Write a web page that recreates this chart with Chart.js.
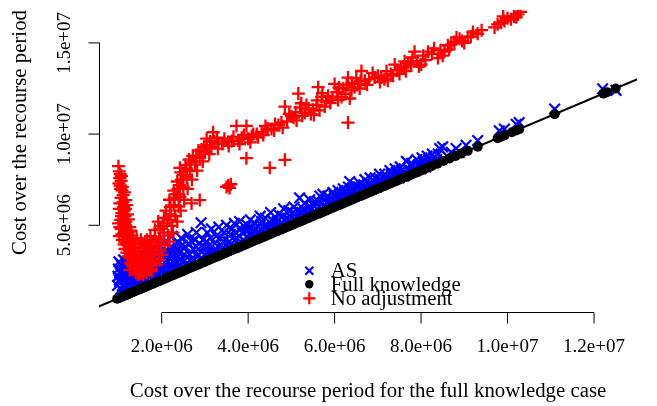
<!DOCTYPE html>
<html><head><meta charset="utf-8">
<script src="https://cdn.jsdelivr.net/npm/chart.js@4"></script>
<style>html,body{margin:0;padding:0;background:#fff}canvas{display:block}</style>
</head><body>
<canvas id="c" width="657" height="406"></canvas>
<script>
// All cost values are in millions (1 = 1.0e+06)
const xTickValues = [2, 4, 6, 8, 10, 12];
const xTickLabels = ["2.0e+06", "4.0e+06", "6.0e+06", "8.0e+06", "1.0e+07", "1.2e+07"];
const yTickValues = [5, 10, 15];
const yTickLabels = ["5.0e+06", "1.0e+07", "1.5e+07"];
const xTitle = "Cost over the recourse period for the full knowledge case";
const yTitle = "Cost over the recourse period";
const legendLabels = ["AS", "Full knowledge", "No adjustment"];

// Full knowledge: cost equals the x value (lies on the y = x line)
const fkCost = [0.97,1.00,1.03,1.06,1.09,1.12,1.15,1.18,1.21,1.24,1.27,1.30,1.34,1.38,1.42,1.46,1.50,1.54,1.58,1.62,1.66,1.70,1.75,1.80,1.85,1.90,1.95,2.00,2.05,2.10,2.16,2.22,2.28,2.34,2.40,2.46,2.52,2.58,2.64,2.70,2.77,2.84,2.91,2.98,3.05,3.12,3.19,3.26,3.33,3.40,3.48,3.56,3.64,3.72,3.80,3.88,3.96,4.04,4.12,4.20,4.28,4.36,4.44,4.52,4.60,4.68,4.76,4.84,4.92,5.00,5.08,5.16,5.24,5.32,5.40,5.48,5.56,5.64,5.72,5.80,5.88,5.96,6.04,6.12,6.20,6.28,6.36,6.44,6.52,6.60,6.68,6.76,6.84,6.92,7.00,7.08,7.16,7.24,7.32,7.40,7.48,7.56,7.64,7.72,7.80,7.88,7.96,8.05,8.15,8.25,8.38,8.52,8.66,8.80,8.93,9.08,9.31,9.77,9.85,9.93,10.10,10.20,10.27,11.09,12.22,12.30,12.50];

// AS: [full knowledge cost, AS cost]
const asPoints = [[0.98,1.7],[0.99,2.2],[1.00,2.6],[1.01,3.0],[1.03,1.9],[1.05,2.4],[1.05,1.5],[1.07,2.8],[1.09,1.7],[1.10,2.1],[1.12,3.1],[1.14,2.5],[1.16,1.8],[1.18,2.9],[1.20,2.2],[1.20,1.6],[1.22,2.6],[1.24,1.9],[1.26,3.2],[1.28,2.4],[1.30,2.0],[1.32,2.8],[1.35,2.2],[1.35,1.7],[1.37,3.0],[1.40,2.5],[1.42,1.9],[1.45,2.7],[1.48,3.3],[1.50,2.1],[1.50,1.8],[1.53,2.9],[1.55,2.4],[1.58,3.4],[1.60,2.2],[1.63,3.0],[1.65,2.0],[1.66,2.6],[1.70,3.5],[1.73,2.4],[1.76,3.2],[1.80,2.8],[1.80,2.1],[1.83,3.8],[1.86,2.5],[1.90,3.4],[1.93,3.0],[1.95,2.3],[1.97,3.9],[2.00,2.7],[2.04,3.5],[2.08,4.1],[2.10,2.4],[2.12,3.1],[2.16,2.8],[2.20,3.8],[2.24,4.4],[2.25,2.6],[2.28,3.3],[2.32,2.9],[2.36,4.0],[2.40,3.5],[2.40,2.7],[2.45,4.3],[2.50,3.0],[2.55,3.8],[2.60,4.5],[2.60,2.9],[2.65,3.4],[2.70,4.1],[2.75,3.1],[2.80,4.6],[2.80,3.0],[2.85,3.7],[2.91,5.14],[2.95,4.2],[3.00,3.4],[3.05,4.6],[3.10,3.9],[3.15,4.8],[3.20,3.6],[3.26,4.4],[3.32,4.9],[3.38,3.9],[3.44,4.6],[3.50,5.0],[3.56,4.1],[3.62,4.8],[3.68,5.1],[3.74,4.3],[3.80,5.2],[3.86,4.6],[3.92,4.1],[3.98,5.0],[4.05,5.3],[4.10,4.6],[4.16,5.1],[4.22,4.5],[4.28,5.5],[4.34,4.9],[4.40,5.4],[4.46,4.8],[4.52,5.7],[4.58,5.2],[4.64,4.9],[4.70,5.6],[4.76,5.1],[4.82,5.9],[4.88,5.3],[4.94,5.8],[5.00,5.4],[5.06,6.0],[5.12,5.5],[5.19,6.5],[5.24,5.7],[5.30,6.2],[5.36,5.6],[5.42,6.4],[5.48,5.9],[5.54,6.3],[5.60,5.9],[5.66,6.6],[5.73,6.7],[5.78,6.1],[5.84,6.6],[5.90,6.2],[5.96,6.8],[6.02,6.3],[6.08,6.9],[6.14,6.5],[6.20,7.0],[6.26,6.6],[6.35,7.4],[6.40,6.8],[6.46,7.2],[6.52,6.8],[6.58,7.3],[6.64,6.9],[6.70,7.5],[6.76,7.0],[6.82,7.6],[6.88,7.2],[6.94,7.6],[7.00,7.3],[7.04,7.8],[7.10,7.4],[7.16,7.8],[7.22,7.5],[7.28,8.0],[7.34,7.6],[7.40,8.1],[7.46,7.7],[7.52,8.2],[7.58,7.8],[7.66,8.5],[7.72,8.0],[7.78,8.4],[7.84,8.1],[7.90,8.6],[7.96,8.2],[8.02,8.7],[8.08,8.3],[8.14,8.8],[8.20,8.4],[8.26,8.9],[8.32,8.5],[8.43,9.21],[8.50,9.30],[8.60,8.8],[8.70,9.0],[8.81,9.21],[9.04,9.39],[9.31,9.65],[9.81,10.18],[9.93,10.28],[10.20,10.54],[10.27,10.63],[11.09,11.37],[12.20,12.48],[12.51,12.40],
[1.02,2.0],[1.04,2.9],[1.08,2.3],[1.11,2.7],[1.13,1.6],[1.15,2.2],[1.19,2.6],[1.23,3.0],[1.25,2.2],[1.27,1.7],[1.29,2.7],[1.33,2.4],[1.36,2.6],[1.39,2.0],[1.43,2.3],[1.46,2.9],[1.47,2.0],[1.52,2.6],[1.56,3.1],[1.57,2.0],[1.61,2.8],[1.64,2.4],[1.68,2.9],[1.71,2.2],[1.74,2.8],[1.78,2.5],[1.82,3.1],[1.85,2.3],[1.88,2.9],[1.92,2.6],[1.96,3.3],[1.99,2.5],[2.02,3.1],[2.06,2.6],[2.10,3.4],[2.14,2.5],[2.18,3.2],[2.22,2.8],[2.26,3.6],[2.30,3.1],[2.34,2.7],[2.38,3.7],[2.43,3.1],[2.47,3.9],[2.52,3.4],[2.57,2.9],[2.62,4.0],[2.67,3.1],[2.72,3.7],[2.77,4.2],[2.83,3.3],[2.88,4.0],[2.93,3.2],[2.98,3.8],[3.03,4.1],[3.08,3.4],[3.13,4.3],[3.18,3.5],[3.23,4.0],[3.29,3.6],[3.35,4.3],[3.41,3.7],[3.47,4.2],[3.53,3.8],[3.59,4.5],[3.65,3.9],[3.71,4.6],[3.77,4.0],[3.83,4.8],[3.89,4.2],[3.95,4.7],[4.01,4.3],[4.07,4.9],[4.13,4.4],[4.19,4.8],[4.25,4.5],[4.31,5.2],[4.37,4.6],[4.43,5.0],[4.49,4.7],[4.55,5.3],[4.61,4.8],[4.67,5.2],[4.73,4.9],[4.79,5.5],[4.85,5.0],[4.91,5.4],[4.97,5.1],[5.03,5.7],[5.09,5.3],[5.15,5.8],[5.21,5.4],[5.27,5.9],[5.33,5.5],[5.39,6.0],[5.45,5.6],[5.51,6.1],[5.57,5.7],[5.63,6.3],[5.69,5.9],[5.75,6.4],[5.81,6.0],[5.87,6.4],[5.93,6.1],[5.99,6.6],[6.05,6.2],[6.11,6.7],[6.17,6.4],[6.23,6.8],[6.29,6.5],[6.32,7.1],[6.38,6.7],[6.44,7.0],[6.50,6.7],[6.56,7.1],[6.62,6.8],[6.68,7.2],[6.74,6.9],[6.80,7.3],[6.86,7.0],[6.92,7.4],[6.98,7.1],[7.06,7.5],[7.13,7.3],[7.19,7.6],[7.25,7.4],[7.31,7.8],[7.37,7.5],[7.43,7.9],[7.49,7.6],[7.55,8.0],[7.61,7.7],[7.69,8.1],[7.75,7.9],[7.81,8.3],[7.87,8.0],[7.93,8.3],[7.99,8.1],[8.05,8.5],[8.11,8.2],[8.17,8.6],[8.23,8.4],[8.29,8.7],[8.36,8.6],[8.40,8.9]];

// No adjustment: [full knowledge cost, no-adjustment cost]
const naPoints = [[1.00,8.24],[1.02,7.95],[1.04,7.80],[1.03,7.60],[1.06,7.44],[1.04,7.18],[1.05,7.00],[1.08,6.91],[1.11,6.65],[1.06,6.50],[1.17,6.38],[1.10,6.25],[1.19,6.11],[1.02,5.90],[1.08,5.67],[1.15,5.50],[1.23,5.32],[1.05,5.30],[1.11,5.14],[1.00,5.10],[1.19,4.88],[1.06,4.80],[1.23,4.61],[1.12,4.55],[1.31,4.44],[1.02,4.40],[1.27,4.17],[1.09,4.20],[1.18,4.05],[1.34,3.99],[1.25,3.85],[1.38,3.73],[1.15,3.70],[1.42,3.46],[1.30,3.40],[1.22,3.30],[1.46,3.20],[1.36,3.10],[1.28,2.95],[1.31,2.84],[1.38,2.66],[1.44,2.90],[1.54,2.49],[1.50,2.70],[1.65,2.40],[1.73,2.58],[1.60,2.60],[1.58,2.95],[1.68,2.80],[1.52,3.15],[1.62,3.30],[1.70,3.05],[1.56,3.50],[1.66,3.60],[1.48,3.80],[1.75,3.40],[1.60,4.00],[1.80,3.20],[1.70,3.90],[1.26,2.55],[1.40,2.40],[1.45,2.30],[1.52,4.20],[1.42,4.30],
[1.01,7.3],[1.07,7.7],[1.09,7.1],[1.12,6.0],[1.14,6.8],[1.13,5.8],[1.16,5.9],[1.03,6.2],[1.07,5.5],[1.21,5.6],[1.17,5.2],[1.03,4.9],[1.14,4.7],[1.26,4.9],[1.08,4.5],[1.20,4.35],[1.29,4.7],[1.13,3.95],[1.22,3.7],[1.33,4.2],[1.19,3.5],[1.28,3.6],[1.38,3.95],[1.26,3.2],[1.34,3.3],[1.41,3.0],[1.34,2.75],[1.47,2.6],[1.50,2.35],[1.57,2.30],[1.62,2.45],[1.69,2.55],[1.55,2.80],[1.64,3.00],[1.74,2.85],[1.58,3.30],[1.72,3.25],[1.78,2.95],[1.64,3.80],[1.74,3.65],[1.83,3.45],[1.56,3.95],[1.66,4.20],[1.78,4.10],[1.88,3.95],[1.74,4.40],[1.85,4.35],[1.94,4.25],[1.84,4.75],[1.96,4.80],[2.02,4.95],[1.92,5.20],[2.05,5.40],[2.16,5.30],[2.10,5.80],[2.20,6.00],[2.18,6.40],[2.30,6.50],[2.28,6.90],[2.38,7.00],[2.36,7.40],[2.46,7.50],[2.44,7.90],[2.55,8.30],[2.63,8.60],[2.72,8.80],[2.85,9.10],[2.98,9.30],[3.12,9.60],[3.28,9.80],[3.40,9.45],[3.62,9.62],[3.85,9.80],[4.08,9.90],
[1.77,2.49],[1.88,2.84],[1.82,3.10],[2.00,3.38],[1.92,3.60],[2.08,3.91],[1.98,4.10],[2.15,4.44],[2.05,4.60],[2.23,4.97],[2.12,5.10],[2.31,5.50],[2.20,5.60],[2.39,6.03],[2.28,6.10],[2.42,6.56],[2.35,6.70],[2.50,7.09],[2.42,7.20],[2.58,7.62],[2.50,7.75],[2.65,7.97],[2.57,8.10],[2.77,8.33],[2.68,8.45],[2.88,8.68],[2.80,8.80],[3.00,9.03],[2.92,9.15],[3.15,9.30],[3.05,9.40],[3.31,9.48],[3.22,9.60],[3.54,9.56],[3.45,9.75],[3.77,9.65],[3.66,9.85],[4.00,9.74],[3.90,9.95],[4.23,9.83],[4.12,10.00],
[1.95,3.10],[2.18,4.10],[2.26,4.60],[2.36,5.20],[2.44,5.80],[2.52,6.40],[2.60,7.00],[2.70,7.50],[2.82,8.00],[2.95,8.50],[3.10,8.90],[3.30,9.20],[3.55,9.35],[3.80,9.45],[4.05,9.55],
[2.42,8.15],[2.69,6.20],[2.88,6.38],[3.54,7.18],[3.60,7.25],[3.50,7.10],[3.57,7.05],[3.96,8.68],[4.50,8.15],[4.85,8.59],[3.04,9.75],[3.19,10.10],[3.73,10.45],[3.96,10.45],[4.85,11.51],
[4.31,10.10],[4.54,10.28],[4.77,10.63],[5.00,10.98],[5.16,12.22],[5.31,11.16],[5.23,11.69],[5.50,11.34],[5.62,12.57],[5.70,12.04],[5.77,11.51],[6.00,12.75],[6.08,11.87],[6.16,12.04],[6.31,13.10],[6.31,10.63],[6.39,12.40],[6.46,12.57],[6.62,13.46],[6.54,12.75],[6.70,12.93],[6.93,13.10],[7.08,13.10],[7.23,12.93],[7.39,13.81],[7.54,13.64],[7.62,13.99],[7.77,13.81],[7.85,14.52],[8.00,13.81],[8.16,14.52],[8.39,14.17],[8.54,14.52],[8.62,14.87],[8.77,15.05],[8.89,15.23],[9.08,15.32],[9.31,15.50],[9.77,16.02],[9.93,16.20],[10.08,16.29],[10.24,16.56],
[4.20,10.00],[4.35,9.95],[4.45,10.30],[4.60,10.20],[4.70,10.50],[4.90,10.70],[5.05,10.90],[5.10,11.20],[5.25,11.00],[5.40,11.40],[5.45,11.10],[5.58,11.60],[5.65,11.30],[5.80,11.80],[5.85,12.10],[5.95,12.00],[6.05,12.30],[6.20,12.50],[6.25,12.20],[6.40,12.80],[6.60,12.90],[6.80,13.00],[7.00,13.20],[7.15,13.00],[7.30,13.30],[7.45,13.50],[7.60,13.70],[7.70,13.90],[7.90,14.00],[8.05,14.30],[8.25,14.40],[8.45,14.60],[8.70,14.90],[8.95,15.10],[9.15,15.35],[9.85,16.10],[10.00,16.35],[10.15,16.45],[10.30,16.70],
[4.40,10.45],[4.62,10.55],[4.80,10.35],[4.95,11.10],[5.12,10.75],[5.20,11.45],[5.35,11.60],[5.52,11.05],[5.60,11.85],[5.72,12.25],[5.90,11.70],[6.10,12.55],[6.28,12.70],[6.35,11.95],[6.50,13.05],[6.58,12.50],[6.75,12.70],[6.88,13.35],[7.05,12.85],[7.20,13.45],[7.35,13.20],[7.50,13.30],[7.65,13.45],[7.80,14.20],[7.95,13.70],[8.10,14.05],[8.30,14.70],[8.50,14.30],[8.65,14.65],[8.82,15.30],[9.00,15.00],[9.20,15.60],[9.40,15.70],[9.70,15.85],[9.90,16.45],[10.20,16.40]];

// reference line y = x (abline) endpoints
const refLine = [0, 14];

const SERIF = "'Liberation Serif','DejaVu Serif',serif";

const rAxes = {
  id: 'rAxes',
  afterDraw(chart) {
    const ctx = chart.ctx;
    const xs = chart.scales.x, ys = chart.scales.y;
    ctx.save();
    ctx.strokeStyle = '#000';
    ctx.fillStyle = '#000';
    ctx.lineWidth = 1;
    // x axis
    const axY = ys.bottom + 0.5;
    const x0 = xs.getPixelForValue(xTickValues[0]);
    const x1 = xs.getPixelForValue(xTickValues[xTickValues.length - 1]);
    ctx.beginPath();
    ctx.moveTo(x0, axY); ctx.lineTo(x1, axY);
    xTickValues.forEach(v => { const p = xs.getPixelForValue(v); ctx.moveTo(p, axY); ctx.lineTo(p, axY + 11); });
    ctx.stroke();
    ctx.font = '19px ' + SERIF;
    ctx.textAlign = 'center';
    ctx.textBaseline = 'middle';
    xTickValues.forEach((v, i) => ctx.fillText(xTickLabels[i], xs.getPixelForValue(v), axY + 35));
    // y axis
    const axX = xs.left + 0.5;
    const y0 = ys.getPixelForValue(yTickValues[0]);
    const y1 = ys.getPixelForValue(yTickValues[yTickValues.length - 1]);
    ctx.beginPath();
    ctx.moveTo(axX, y0); ctx.lineTo(axX, y1);
    yTickValues.forEach(v => { const p = ys.getPixelForValue(v); ctx.moveTo(axX, p); ctx.lineTo(axX - 11, p); });
    ctx.stroke();
    yTickValues.forEach((v, i) => {
      ctx.save();
      ctx.translate(axX - 34.5, ys.getPixelForValue(v));
      ctx.rotate(-Math.PI / 2);
      ctx.fillText(yTickLabels[i], 0, 0);
      ctx.restore();
    });
    // titles
    ctx.font = '20.8px ' + SERIF;
    ctx.fillText(xTitle, (xs.left + xs.right) / 2, 391.5);
    ctx.save();
    ctx.translate(20.5, 132.5);
    ctx.rotate(-Math.PI / 2);
    ctx.fillText(yTitle, 0, 0);
    ctx.restore();
    // legend (no box)
    const lx = 309.3, tx = 330.7;
    const rows = [270.7, 284.3, 298.3];
    const bases = [277, 291, 305];
    ctx.lineWidth = 2.2;
    ctx.strokeStyle = '#0000ff';
    ctx.beginPath();
    ctx.moveTo(lx - 4, rows[0] - 4); ctx.lineTo(lx + 4, rows[0] + 4);
    ctx.moveTo(lx - 4, rows[0] + 4); ctx.lineTo(lx + 4, rows[0] - 4);
    ctx.stroke();
    ctx.fillStyle = '#000';
    ctx.beginPath(); ctx.arc(lx, rows[1], 4.2, 0, Math.PI * 2); ctx.fill();
    ctx.strokeStyle = '#ff0000';
    ctx.beginPath();
    ctx.moveTo(lx - 6, rows[2]); ctx.lineTo(lx + 6, rows[2]);
    ctx.moveTo(lx, rows[2] - 6); ctx.lineTo(lx, rows[2] + 6);
    ctx.stroke();
    ctx.fillStyle = '#000';
    ctx.textAlign = 'left';
    ctx.textBaseline = 'alphabetic';
    legendLabels.forEach((t, i) => ctx.fillText(t, tx, bases[i]));
    ctx.restore();
  }
};

new Chart(document.getElementById('c'), {
  type: 'scatter',
  data: {
    datasets: [
      { label: legendLabels[0], data: asPoints.map(p => ({x: p[0], y: p[1]})),
        pointStyle: 'crossRot', pointRadius: 7.5, borderColor: '#0000ff', backgroundColor: '#0000ff',
        pointBorderWidth: 2.2, order: 4 },
      { label: legendLabels[1], data: fkCost.map(v => ({x: v, y: v})),
        pointStyle: 'circle', pointRadius: 5, borderColor: '#000', backgroundColor: '#000',
        pointBorderWidth: 0, order: 3 },
      { type: 'line', label: 'y = x', data: refLine.map(v => ({x: v, y: v})),
        borderColor: '#000', borderWidth: 2, pointRadius: 0, fill: false, order: 2 },
      { label: legendLabels[2], data: naPoints.map(p => ({x: p[0], y: p[1]})),
        pointStyle: 'cross', pointRadius: 6.5, borderColor: '#ff0000', backgroundColor: '#ff0000',
        pointBorderWidth: 2.3, order: 1 }
    ]
  },
  options: {
    responsive: false,
    animation: false,
    devicePixelRatio: 1,
    layout: { padding: { left: 99, right: 20, top: 0, bottom: 94 } },
    scales: {
      x: { type: 'linear', display: false, min: 0.5497, max: 12.995 },
      y: { type: 'linear', display: false, min: 0.2446, max: 16.82 }
    },
    plugins: { legend: { display: false }, tooltip: { enabled: false } }
  },
  plugins: [rAxes]
});
</script>
</body></html>
